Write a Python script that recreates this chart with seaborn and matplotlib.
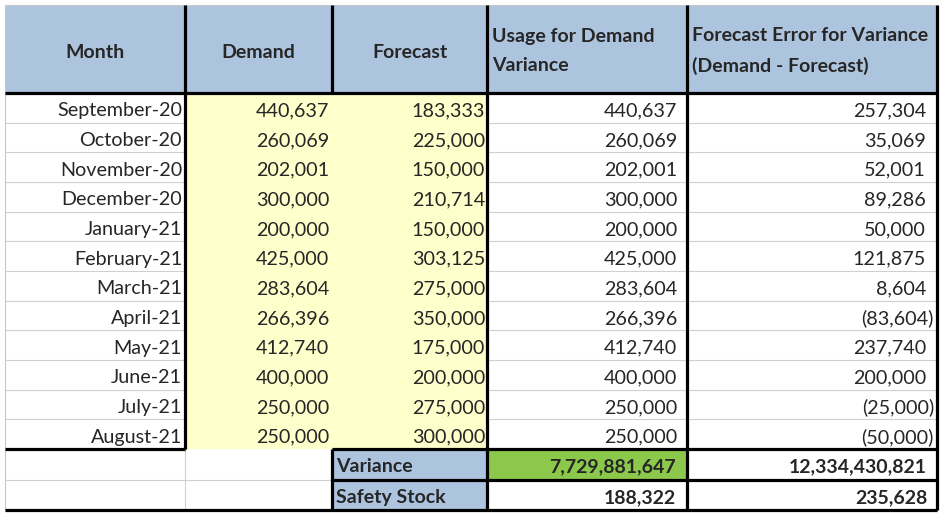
import matplotlib.pyplot as plt
import numpy as np
import seaborn as sns
from matplotlib.patches import Rectangle

# values
months = ["September-20", "October-20", "November-20", "December-20", "January-21",
          "February-21", "March-21", "April-21", "May-21", "June-21", "July-21", "August-21"]
demand = [440637, 260069, 202001, 300000, 200000, 425000, 283604, 266396, 412740, 400000, 250000, 250000]
forecast = [183333, 225000, 150000, 210714, 150000, 303125, 275000, 350000, 175000, 200000, 275000, 300000]
usage = [440637, 260069, 202001, 300000, 200000, 425000, 283604, 266396, 412740, 400000, 250000, 250000]
fc_error = [257304, 35069, 52001, 89286, 50000, 121875, 8604, -83604, 237740, 200000, -25000, -50000]
headers = ["Month", "Demand", "Forecast", "Usage for Demand\nVariance",
           "Forecast Error for Variance\n(Demand - Forecast)"]
summary_labels = ["Variance", "Safety Stock"]
summary_usage = [7729881647, 188322]
summary_error = [12334430821, 235628]

sns.set_theme(style="white")
plt.rcParams['font.family'] = ['Lato', 'DejaVu Sans']

BLUE = "#adc4df"
YELLOW = "#ffffcc"
GREEN = "#8bc84c"
GRID = "#d0d0d0"

# column edges and row edges in pixels
xs = [5, 185, 332, 487, 687, 937]
top, head_bot = 5, 93
row_h = (449 - head_bot) / len(months)
row_y = [head_bot + i * row_h for i in range(len(months) + 1)]
sum_y = [449, 479.5, 510]

fig = plt.figure(figsize=(9.45, 5.17), dpi=100)
ax = fig.add_axes([0, 0, 1, 1])
ax.set_xlim(0, 945)
ax.set_ylim(517, 0)
ax.axis("off")

thick = 2.3
thin = 0.8
fs = 14.2
hfs = 14.0


def acct(v):
    if v < 0:
        return "({:,})".format(-v)
    return "{:,}".format(v)


# header
ax.add_patch(Rectangle((xs[0], top), xs[-1] - xs[0], head_bot - top, color=BLUE, lw=0))
for i, h in enumerate(headers[:3]):
    ax.text((xs[i] + xs[i + 1]) / 2, 52, h, ha="center", va="center", fontsize=hfs, fontweight="bold")
for i, h in enumerate(headers[3:]):
    ax.text(xs[3 + i] + 5, 51, h, ha="left", va="center", fontsize=hfs, fontweight="bold", linespacing=1.85)

# yellow demand / forecast block
ax.add_patch(Rectangle((xs[1], head_bot), xs[3] - xs[1], 449 - head_bot, color=YELLOW, lw=0))

# data rows
for i, m in enumerate(months):
    yc = row_y[i] + row_h / 2 + 3
    ax.text(xs[1] - 3, yc, m, ha="right", va="center", fontsize=fs)
    ax.text(xs[2] - 3, yc, acct(demand[i]), ha="right", va="center", fontsize=fs)
    ax.text(xs[3] - 2, yc, acct(forecast[i]), ha="right", va="center", fontsize=fs)
    ax.text(xs[4] - 10, yc, acct(usage[i]), ha="right", va="center", fontsize=fs)
    pad = 3 if fc_error[i] < 0 else 11
    ax.text(xs[5] - pad, yc, acct(fc_error[i]), ha="right", va="center", fontsize=fs)

# grey gridlines between data rows
for y in row_y[1:-1]:
    for a, b in [(xs[0], xs[1]), (xs[3], xs[4]), (xs[4], xs[5])]:
        ax.plot([a, b], [y, y], color=GRID, lw=thin, zorder=1)

# summary rows
ax.add_patch(Rectangle((xs[2], sum_y[0]), xs[3] - xs[2], sum_y[2] - sum_y[0], color=BLUE, lw=0))
ax.add_patch(Rectangle((xs[3], sum_y[0]), xs[4] - xs[3], sum_y[1] - sum_y[0],
                       facecolor=GREEN, edgecolor="#5e9a30", lw=thin))
for i, lab in enumerate(summary_labels):
    yc = (sum_y[i] + sum_y[i + 1]) / 2 + 2.5
    ax.text(xs[2] + 4, yc, lab, ha="left", va="center", fontsize=hfs, fontweight="bold")
    ax.text(xs[4] - 11, yc, acct(summary_usage[i]), ha="right", va="center", fontsize=hfs, fontweight="bold")
    ax.text(xs[5] - 10, yc, acct(summary_error[i]), ha="right", va="center", fontsize=hfs, fontweight="bold")
ax.plot([xs[0], xs[2]], [sum_y[1], sum_y[1]], color=GRID, lw=thin)
ax.plot([xs[1], xs[1]], [sum_y[0], sum_y[2]], color=GRID, lw=thin)

# outer grey edges
ax.plot([xs[0], xs[-1]], [top, top], color="#c8c8c8", lw=thin)
ax.plot([xs[0], xs[0]], [top, sum_y[2]], color="#c8c8c8", lw=thin)

# thick black borders
K = "black"
ax.plot([xs[0], xs[-1]], [head_bot, head_bot], color=K, lw=thick, solid_capstyle="butt")
ax.plot([xs[1], xs[1]], [top, 449], color=K, lw=thick, solid_capstyle="butt")
ax.plot([xs[2], xs[2]], [top, head_bot], color=K, lw=thick, solid_capstyle="butt")
ax.plot([xs[2], xs[2]], [sum_y[0], sum_y[2]], color=K, lw=thick, solid_capstyle="butt")
for x in xs[3:]:
    ax.plot([x, x], [top, sum_y[2]], color=K, lw=thick, solid_capstyle="butt")
ax.plot([xs[0], xs[1]], [449, 449], color=K, lw=thick, solid_capstyle="butt")
ax.plot([xs[2], xs[-1]], [sum_y[0], sum_y[0]], color=K, lw=thick, solid_capstyle="butt")
ax.plot([xs[2], xs[-1]], [sum_y[1], sum_y[1]], color=K, lw=thick, solid_capstyle="butt")
ax.plot([xs[0], xs[-1]], [sum_y[2], sum_y[2]], color=K, lw=thick, solid_capstyle="butt")

fig.savefig("out.png", dpi=100)
